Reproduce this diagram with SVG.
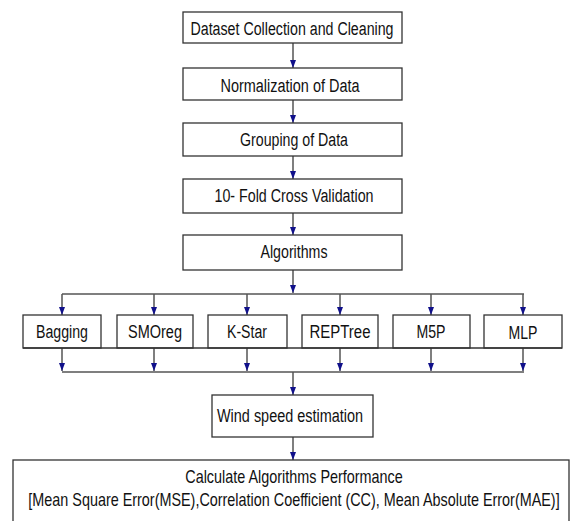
<svg xmlns="http://www.w3.org/2000/svg" width="571" height="521" viewBox="0 0 571 521">
<style>
.box{fill:#fff;stroke:#333;stroke-width:1.3}
.ln{fill:none;stroke:#555;stroke-width:1.5}
.ar{fill:none;stroke:#555;stroke-width:1.5;marker-end:url(#ah)}
text{font-family:"Liberation Sans",Arial,sans-serif;font-size:18px;fill:#111;text-anchor:middle}
</style>
<defs>
<marker id="ah" viewBox="0 0 8 6" refX="8" refY="3" markerWidth="8" markerHeight="6" markerUnits="userSpaceOnUse" orient="auto">
<path d="M0,0 L8,3 L0,6 z" fill="#10108a"/>
</marker>
</defs>
<rect width="571" height="521" fill="#fff"/>
<g id="connectors">
<line class="ar" x1="293" y1="43" x2="293" y2="68"/>
<line class="ar" x1="293" y1="100" x2="293" y2="123"/>
<line class="ar" x1="293" y1="156" x2="293" y2="179"/>
<line class="ar" x1="293" y1="213" x2="293" y2="235"/>
<line class="ar" x1="293" y1="270" x2="293" y2="293"/>
<line class="ln" x1="62" y1="294" x2="524" y2="294"/>
<line class="ar" x1="62" y1="294" x2="62" y2="315"/>
<line class="ar" x1="154" y1="294" x2="154" y2="315"/>
<line class="ar" x1="247" y1="294" x2="247" y2="315"/>
<line class="ar" x1="340" y1="294" x2="340" y2="315"/>
<line class="ar" x1="431" y1="294" x2="431" y2="315"/>
<line class="ar" x1="523" y1="294" x2="523" y2="315"/>
<line class="ar" x1="62" y1="348" x2="62" y2="371"/>
<line class="ar" x1="154" y1="348" x2="154" y2="371"/>
<line class="ar" x1="247" y1="348" x2="247" y2="371"/>
<line class="ar" x1="340" y1="348" x2="340" y2="371"/>
<line class="ar" x1="431" y1="348" x2="431" y2="371"/>
<line class="ar" x1="523" y1="348" x2="523" y2="371"/>
<line class="ln" x1="62" y1="372" x2="524" y2="372"/>
<line class="ar" x1="293" y1="372" x2="293" y2="395"/>
<line class="ar" x1="293" y1="437" x2="293" y2="460"/>
</g>
<g id="n1"><rect class="box" x="183" y="12" width="219" height="31"/><text x="292" y="35" textLength="203" lengthAdjust="spacingAndGlyphs">Dataset Collection and Cleaning</text></g>
<g id="n2"><rect class="box" x="183" y="68" width="219" height="32"/><text x="290" y="92" textLength="139" lengthAdjust="spacingAndGlyphs">Normalization of Data</text></g>
<g id="n3"><rect class="box" x="183" y="123" width="219" height="33"/><text x="294" y="146" textLength="108" lengthAdjust="spacingAndGlyphs">Grouping of Data</text></g>
<g id="n4"><rect class="box" x="183" y="179" width="219" height="34"/><text x="294" y="202" textLength="159" lengthAdjust="spacingAndGlyphs">10- Fold Cross Validation</text></g>
<g id="n5"><rect class="box" x="183" y="235" width="219" height="35"/><text x="294" y="258" textLength="67" lengthAdjust="spacingAndGlyphs">Algorithms</text></g>
<g id="n6"><rect class="box" x="23" y="315" width="78" height="33"/><text x="62" y="338" textLength="52" lengthAdjust="spacingAndGlyphs">Bagging</text></g>
<g id="n7"><rect class="box" x="117" y="315" width="76" height="33"/><text x="155" y="338" textLength="54" lengthAdjust="spacingAndGlyphs">SMOreg</text></g>
<g id="n8"><rect class="box" x="208" y="315" width="79" height="33"/><text x="247" y="338" textLength="40" lengthAdjust="spacingAndGlyphs">K-Star</text></g>
<g id="n9"><rect class="box" x="302" y="315" width="76" height="33"/><text x="340" y="338" textLength="61" lengthAdjust="spacingAndGlyphs">REPTree</text></g>
<g id="n10"><rect class="box" x="393" y="315" width="77" height="33"/><text x="431" y="338" textLength="29" lengthAdjust="spacingAndGlyphs">M5P</text></g>
<g id="n11"><rect class="box" x="484" y="315" width="78" height="33"/><text x="523" y="339" textLength="29" lengthAdjust="spacingAndGlyphs">MLP</text></g>
<line class="ln" x1="23" y1="348" x2="562" y2="348" style="stroke:#333;stroke-width:1.3"/>
<g id="n12"><rect class="box" x="212" y="395" width="161" height="42"/><text x="290" y="422" textLength="146" lengthAdjust="spacingAndGlyphs">Wind speed estimation</text></g>
<g id="n13"><rect class="box" x="13" y="460" width="556" height="70"/><text transform="translate(294 483) scale(0.8 1)" x="0" y="0">Calculate Algorithms Performance</text><text transform="translate(294 506) scale(0.8 1)" x="0" y="0">[Mean Square Error(MSE),Correlation Coefficient (CC), Mean Absolute Error(MAE)]</text></g>
</svg>
